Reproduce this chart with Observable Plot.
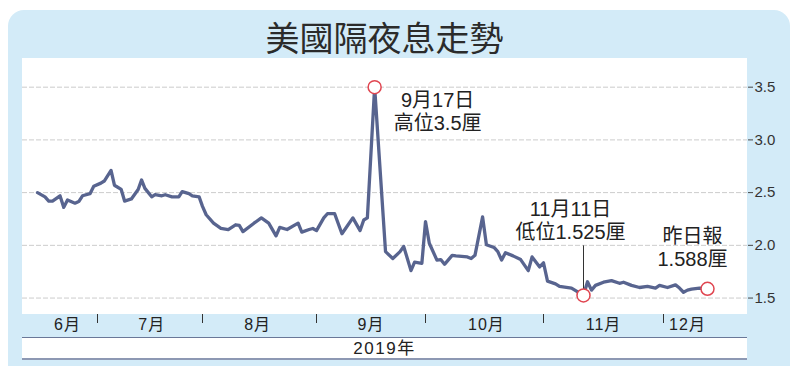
<!DOCTYPE html>
<html><head><meta charset="utf-8">
<script src="https://cdn.jsdelivr.net/npm/d3@7"></script>
<script src="https://cdn.jsdelivr.net/npm/@observablehq/plot@0.6"></script>
<style>
html,body{margin:0;padding:0;background:#fff;width:800px;height:374px;overflow:hidden;}
#bg{position:absolute;left:8px;top:10px;width:782px;height:356px;background:#d3ebf8;border-radius:16px 16px 0 0;}
#panel{position:absolute;left:22px;top:58px;width:725px;height:256px;background:#fff;}
#yearrow{position:absolute;left:22px;top:337px;width:725px;height:20px;background:#fff;border-top:1px solid #6a7898;border-bottom:2px solid #8d98b3;font:17px "Liberation Sans","Noto Sans CJK TC",sans-serif;letter-spacing:1.5px;color:#222;text-align:center;line-height:21px;}
#title{position:absolute;left:22px;top:16px;width:725px;text-align:center;font:34px/42px "Noto Sans CJK TC",sans-serif;color:#2b2b2b;}
#chart{position:absolute;left:0;top:0;}
.mlab text{letter-spacing:1px;}
</style></head>
<body>
<div id="bg"></div><div id="panel"></div>
<div id="title"></div>
<div id="yearrow"></div>
<div id="chart"></div>
<script>
const title = "美國隔夜息走勢";
const yearLabel = "2019年";
const dates = [
"2019-06-15","2019-06-17","2019-06-18","2019-06-19","2019-06-21","2019-06-22","2019-06-23","2019-06-25","2019-06-26","2019-06-27","2019-06-29","2019-06-30",
"2019-07-02","2019-07-03","2019-07-05","2019-07-06","2019-07-08","2019-07-09","2019-07-11","2019-07-13","2019-07-14","2019-07-15","2019-07-17","2019-07-18","2019-07-20","2019-07-21","2019-07-23","2019-07-25","2019-07-26","2019-07-28","2019-07-29","2019-07-31",
"2019-08-01","2019-08-02","2019-08-04","2019-08-06","2019-08-08","2019-08-10","2019-08-11","2019-08-12","2019-08-15","2019-08-17","2019-08-19","2019-08-21","2019-08-22","2019-08-24","2019-08-27","2019-08-28","2019-08-30","2019-08-31",
"2019-09-01","2019-09-03","2019-09-04","2019-09-06","2019-09-08","2019-09-09","2019-09-11","2019-09-13","2019-09-14","2019-09-15","2019-09-17","2019-09-20","2019-09-22","2019-09-24","2019-09-25","2019-09-27","2019-09-28","2019-09-30",
"2019-10-01","2019-10-02","2019-10-04","2019-10-05","2019-10-06","2019-10-08","2019-10-09","2019-10-12","2019-10-13","2019-10-14","2019-10-16","2019-10-17","2019-10-19","2019-10-20","2019-10-21","2019-10-22","2019-10-24","2019-10-26","2019-10-28","2019-10-29","2019-10-31",
"2019-11-01","2019-11-02","2019-11-04","2019-11-05","2019-11-08","2019-11-11","2019-11-12","2019-11-13","2019-11-14","2019-11-16","2019-11-18","2019-11-20","2019-11-21","2019-11-23","2019-11-25","2019-11-27","2019-11-29","2019-11-30",
"2019-12-02","2019-12-04","2019-12-05","2019-12-06","2019-12-07","2019-12-08","2019-12-10","2019-12-12"];
const rates = [
2.50,2.46,2.42,2.42,2.47,2.36,2.43,2.40,2.415,2.47,2.49,2.56,
2.59,2.61,2.71,2.57,2.53,2.42,2.44,2.53,2.62,2.54,2.46,2.48,2.47,2.48,2.46,2.46,2.51,2.49,2.47,2.46,
2.37,2.29,2.21,2.16,2.15,2.195,2.19,2.13,2.21,2.26,2.21,2.09,2.17,2.15,2.21,2.125,2.15,2.16,
2.14,2.26,2.30,2.30,2.11,2.16,2.26,2.14,2.24,2.26,3.50,1.94,1.875,1.94,1.99,1.76,1.84,1.83,
2.225,2.02,1.86,1.865,1.82,1.905,1.90,1.89,1.875,1.905,2.27,2.005,1.98,1.94,1.86,1.93,1.90,1.865,1.76,1.89,1.795,
1.835,1.66,1.635,1.61,1.595,1.525,1.655,1.575,1.62,1.65,1.665,1.64,1.65,1.62,1.60,1.61,1.595,1.62,
1.60,1.625,1.595,1.555,1.575,1.585,1.595,1.588];
const monthStarts = ["2019-07-01","2019-08-01","2019-09-01","2019-10-01","2019-11-01","2019-12-01"];
const monthLabelDates = ["2019-06-23","2019-07-17","2019-08-16","2019-09-16","2019-10-17","2019-11-16","2019-12-07"];
const yTicks = [1.5, 2.0, 2.5, 3.0, 3.5];
const annDates = ["2019-09-17","2019-11-11","2019-12-12"];
const annValues = [3.5, 1.525, 1.588];
const annLabels = ["9月17日\n高位3.5厘", "11月11日\n低位1.525厘", "昨日報\n1.588厘"];

document.getElementById("title").textContent = title;
document.getElementById("yearrow").textContent = yearLabel;

const parse = d3.utcParse("%Y-%m-%d");
const series = dates.map((d, i) => ({date: parse(d), value: rates[i]}));
const ann = annDates.map((d, i) => ({date: parse(d), value: annValues[i], label: annLabels[i]}));
const xDomain = [parse("2019-06-11"), ...monthStarts.map(parse), parse("2019-12-22")];

const font = "'Liberation Sans','Noto Sans CJK TC',sans-serif";
const textOpts = {x: "date", y: "value", text: "label", fontSize: 20, lineHeight: 1.15, fill: "#222", textAnchor: "middle", lineAnchor: "middle"};

const chart = Plot.plot({
  width: 800, height: 374,
  marginLeft: 22, marginRight: 53, marginTop: 58, marginBottom: 60,
  style: {background: "transparent", fontFamily: font, overflow: "visible"},
  x: {type: "utc", domain: xDomain, range: [22, 97, 202, 316, 425, 543, 663, 747]},
  y: {domain: [1.344, 3.772]},
  marks: [
    Plot.gridY(yTicks, {stroke: "#cccccc", strokeOpacity: 1, strokeDasharray: "5,2"}),
    Plot.axisY(yTicks, {anchor: "right", tickSize: 5, tickPadding: 2, tickFormat: d3.format(".1f"), fontSize: 15, fill: "#333", stroke: "#444", label: null}),
    Plot.axisX(monthStarts.map(parse), {anchor: "bottom", tickSize: 9, tickFormat: () => "", stroke: "#333", label: null}),
    Plot.axisX(monthLabelDates.map(parse), {anchor: "bottom", tickSize: 0, tickPadding: 4, tickFormat: d => `${d.getUTCMonth() + 1}月`, fontSize: 16, fill: "#222", className: "mlab", label: null}),
    Plot.line(series, {x: "date", y: "value", stroke: "#58648f", strokeWidth: 3.3, strokeLinejoin: "round"}),
    Plot.ruleX(ann.slice(1, 2), {x: "date", y1: "value", y2: d => d.value + 0.47, stroke: "#333", strokeWidth: 1}),
    Plot.dot(ann, {x: "date", y: "value", r: 6.5, stroke: "#e04550", strokeWidth: 1.5, fill: "white"}),
    Plot.text(ann.slice(0, 1), {...textOpts, dx: 63, dy: 24}),
    Plot.text(ann.slice(1, 2), {...textOpts, dx: -13, dy: -75}),
    Plot.text(ann.slice(2, 3), {...textOpts, dx: -15, dy: -42})
  ]
});
document.getElementById("chart").appendChild(chart);
</script>
</body></html>
